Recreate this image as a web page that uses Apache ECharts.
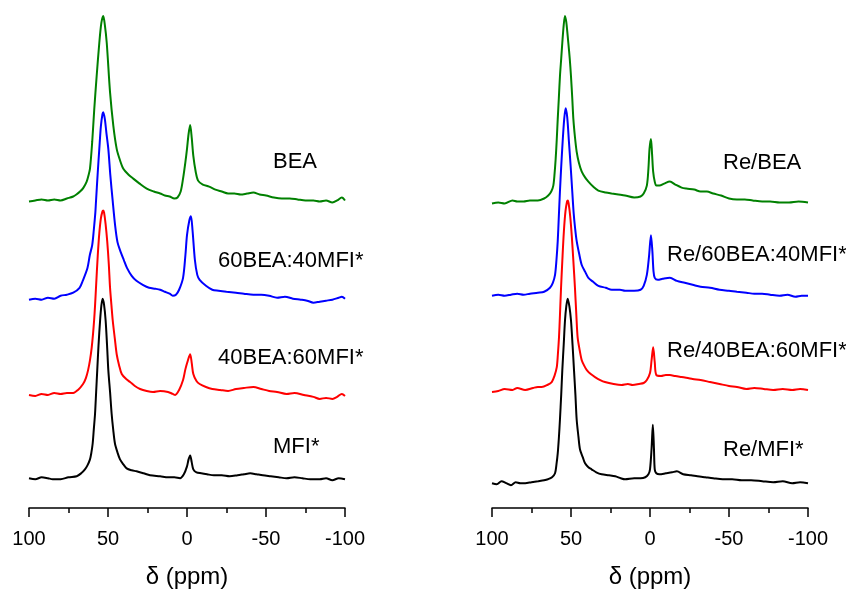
<!DOCTYPE html>
<html>
<head>
<meta charset="utf-8">
<title>29Si NMR</title>
<script src="https://cdn.jsdelivr.net/npm/echarts@6/dist/echarts.min.js"></script>
<style>
  html, body { margin: 0; padding: 0; background: #fff; }
  #chart { width: 846px; height: 594px; }
</style>
</head>
<body>
<div id="chart"></div>
<script>
// x tick labels (ppm)
var xTicks = [100, 50, 0, -50, -100]

// spectrum names, colors and vertical offsets (stacking)
var leftNames = ['BEA', '60BEA:40MFI*', '40BEA:60MFI*', 'MFI*']
var rightNames = ['Re/BEA', 'Re/60BEA:40MFI*', 'Re/40BEA:60MFI*', 'Re/MFI*']
var lineColors = ['#008000', '#0000ff', '#ff0000', '#000000']
var leftOffsets = [309, 210, 114, 29]
var rightOffsets = [307, 214, 119, 25]

// [ppm, intensity]
var bea = [[100,0],[96,1],[92,2],[88,1],[84,2],[80,1],[76,3],[72,5],[70,7],[67.7,10],[65.5,14],[63.5,20],[62.4,26],[61.4,33],[60,60],[58.7,93],[57.2,126],[55.5,160],[54.2,180],[53,187],[52,178],[50.8,160],[48.7,110],[46.6,76],[44.5,53],[42.5,42],[40.3,33],[37,27],[34,23],[30,18],[25.5,13],[21,10],[17,8],[14,6],[11,5],[8,3],[6,4],[4,10],[2.5,23],[1,40],[0,53],[-1,68],[-2,77],[-3,64],[-4,46],[-5.5,30],[-7,21],[-10,17],[-14,15],[-18,12],[-22,10],[-26,8],[-30,8],[-34,7],[-38,8],[-42,9],[-46,7],[-50,6],[-55,4],[-60,3],[-65,3],[-70,2],[-75,1],[-80,1],[-84,0],[-88,1],[-92,-1],[-95,1],[-98,4],[-100,1]]
var bea60 = [[100,0],[96,1],[92,0],[88,2],[84,1],[80,4],[76,5],[72,7],[68,12],[66,19],[63,32],[61.5,45],[60,55],[59,70],[58,88],[57.6,99],[56.5,128],[55.5,152],[54.5,175],[53.5,187],[53,189],[52,182],[51,168],[49.8,152],[48.5,125],[47,99],[45.5,75],[44,58],[42.4,50],[40,40],[38,32],[35,24],[32,19],[28,15],[24,12],[20,11],[17,10],[14,8],[11,6],[9,4],[7,5],[5,10],[2.5,22],[1,45],[0,65],[-1.5,80],[-2.5,84],[-3.5,70],[-5,40],[-6.5,25],[-8,20],[-12,14],[-16,10],[-20,9],[-25,8],[-31,7],[-36,6],[-42,5],[-47,5],[-52,4],[-57,2],[-62,3],[-67,1],[-72,0],[-76,-1],[-80,-3],[-84,-2],[-88,-1],[-92,0],[-96,2],[-98,3],[-100,1]]
var bea40 = [[100,0],[96,-1],[92,1],[88,0],[84,2],[80,1],[76,2],[72,2],[69,5],[65.8,11],[64,17],[62.6,25],[61.4,35],[60.3,48],[59.5,61],[58.8,75],[58.2,90],[57.6,108],[56.5,140],[55.5,163],[54.5,178],[53.5,185],[53,186],[52.5,184],[51.5,172],[50.5,155],[49.5,132],[48.7,108],[47.8,90],[47,75],[45.7,57],[44.5,41],[43,30],[41.3,21],[38.5,16],[36,13],[33,9],[29.7,6],[25.5,4],[21.5,3],[17,4],[12,3],[9,1],[7.5,0],[5,5],[2.5,15],[1,26],[-0.6,35],[-2,41],[-3,32],[-4,21],[-6,14],[-8,11],[-12,8],[-16,6],[-21,5],[-26,4],[-31,6],[-36,7],[-42,8],[-47,6],[-52,4],[-57,3],[-63,1],[-68,2],[-74,0],[-80,-2],[-84,-4],[-88,-3],[-92,-4],[-95,-2],[-98,1],[-100,-1]]
var mfi = [[100,1],[96,0],[92,2],[88,1],[85,0],[80,0],[75,2],[69.8,3],[67,6],[64.6,10],[63,14],[61.4,20],[60.5,27],[59.7,36],[59,50],[58.2,66],[57.5,88],[56.8,110],[56,135],[55,160],[54.2,175],[53.4,182],[52.5,176],[51.5,160],[50.6,135],[49.8,110],[48.7,88],[47.7,66],[46.7,50],[45.6,36],[44,27],[42.4,20],[40.3,15],[38.2,11],[35,9],[31.9,8],[27.5,6],[23.4,4],[17,3],[12,2],[8,2],[4.4,1],[2,5],[0,13],[-1,20],[-2,24],[-3,17],[-4,10],[-6,7],[-9,6],[-12.7,5],[-17,4],[-22,4],[-27,3],[-32,4],[-36,5],[-40,6],[-44,5],[-48,4],[-53,3],[-58,2],[-63,1],[-68,2],[-73,1],[-78,0],[-84,0],[-88,1],[-92,-1],[-96,1],[-100,0]]

var reBea = [[100,0],[96,1],[92,0],[87,3],[84,2],[80,2],[76,3],[71,3],[67,5],[64.4,8],[62.5,12],[61.2,18],[60.4,30],[59.7,45],[59,65],[58.4,85],[57.7,106],[57,128],[56.2,146],[55.5,162],[54.6,180],[53.8,189],[53,183],[52.4,174],[51.7,162],[50.8,146],[50,128],[49.2,106],[48.5,85],[47.5,67],[46.4,52],[45,41],[43.2,32],[41,26],[39,22],[36,17],[32.7,13],[28,11],[24.2,10],[20,9],[15.8,8],[10,6],[6,7],[4,10],[2,18],[1,35],[0.3,55],[-0.6,65],[-1.3,50],[-2,32],[-3,22],[-4,18],[-6,18],[-9,20],[-12.6,22],[-16,19],[-20,16],[-23,15],[-28,14],[-32,12],[-36,12],[-40,10],[-45,8],[-50,5],[-55,4],[-60,4],[-65,3],[-71,2],[-76,2],[-82,1],[-88,1],[-94,2],[-100,1]]
var reBea60 = [[100,0],[96,1],[92,0],[88,1],[84,2],[80,1],[76,2],[71,3],[67,4],[63.3,8],[61.5,13],[60.1,21],[59.2,36],[58.4,55],[57.7,80],[57,105],[56.2,130],[55.3,155],[54.3,178],[53.4,189],[52.4,180],[51.3,155],[50.2,130],[49.2,105],[48.3,83],[47.4,68],[46.4,55],[44.8,42],[43.2,31],[41,24],[39,18],[36,14],[32.7,10],[28,8],[24.2,6],[19,6],[15.8,5],[10,5],[6,6],[4,10],[2,21],[0.6,40],[-0.6,61],[-1.5,45],[-2.2,25],[-3,18],[-5,16],[-8,17],[-12.6,18],[-17,15],[-22,13],[-27,11],[-32,9],[-38,8],[-44,6],[-50,5],[-55,4],[-61,3],[-66,2],[-71,2],[-76,1],[-82,0],[-87,1],[-92,-1],[-96,0],[-100,0]]
var reBea40 = [[100,-2],[96,-1],[92,1],[87,0],[84,2],[79,0],[74,2],[71,3],[68.5,3],[65,5],[62.2,8],[60.5,14],[59,23],[58.3,36],[57.6,53],[57,75],[56.3,103],[55.5,130],[54.5,160],[53.5,180],[52.5,190],[52,191],[51.5,188],[50.5,175],[49.5,155],[48.5,130],[47.5,103],[46.6,75],[45.8,53],[44.5,40],[43.2,30],[41.5,24],[40,20],[37.5,16],[34.8,13],[31.5,10],[28.5,8],[23,6],[18,5],[14,6],[11,5],[7,6],[4,7],[2,10],[0,17],[-1,30],[-2,43],[-3,28],[-4,15],[-7,14],[-10,15],[-12.6,15],[-16,14],[-20,13],[-24,12],[-27,11],[-32,10],[-38,8],[-44,6],[-50,4],[-55,3],[-61,1],[-66,2],[-72,1],[-78,0],[-84,1],[-90,0],[-95,1],[-100,0]]
var reMfi = [[100,0],[97,-1],[94,2],[91,0],[88,-2],[85,1],[82,0],[79,0],[75,1],[70.9,2],[67,3],[64.6,4],[62,6],[60.1,10],[59.2,19],[58.4,30],[57.7,45],[57,64],[56.2,89],[55.5,114],[54.6,140],[53.8,164],[53,178],[52.1,186],[51,178],[50,164],[49,139],[48.1,114],[47.2,89],[46.4,64],[45.3,47],[44.3,34],[42.5,26],[41.1,20],[39,16],[37,14],[34,11],[30.6,9],[26,8],[22,7],[18.5,5],[15.8,4],[10,5],[6,5],[3,6],[1,9],[0,14],[-1,35],[-1.8,59],[-2.5,35],[-3,14],[-4,10],[-6,9],[-10,10],[-14,11],[-17,12],[-21,9],[-26,8],[-30,7],[-35,6],[-40,5],[-46,4],[-52,4],[-58,3],[-64,3],[-71,2],[-78,1],[-84,2],[-90,0],[-95,1],[-100,0]]

var leftData = [bea, bea60, bea40, mfi]
var rightData = [reBea, reBea60, reBea40, reMfi]

var font = 'Liberation Sans, Arial, sans-serif'

function makeAxis (idx) {
  return {
    gridIndex: idx,
    type: 'value',
    inverse: true,
    min: xTicks[xTicks.length - 1],
    max: xTicks[0],
    interval: xTicks[0] - xTicks[1],
    name: 'δ (ppm)',
    nameLocation: 'middle',
    nameGap: 57,
    nameTextStyle: { color: '#000', fontSize: 24, fontFamily: font },
    axisLine: { onZero: false, lineStyle: { color: '#000', width: 1.5 } },
    axisTick: { show: true, length: 9, lineStyle: { color: '#000', width: 1.5 } },
    minorTick: { show: true, splitNumber: 2, length: 5, lineStyle: { color: '#000', width: 1.5 } },
    axisLabel: { color: '#000', fontSize: 20, fontFamily: font, margin: 21 },
    splitLine: { show: false }
  }
}

function makeSeries (data, offsets, axisIdx) {
  return data.map(function (d, i) {
    return {
      type: 'line',
      xAxisIndex: axisIdx,
      yAxisIndex: axisIdx,
      data: d.map(function (p) { return [p[0], p[1] + offsets[i]] }),
      showSymbol: false,
      smooth: 0.3,
      lineStyle: { color: lineColors[i], width: 2 },
      z: 10 - i
    }
  })
}

// label positions of each spectrum name
var labelPos = [
  [273, 162], [218, 261], [218, 358], [273, 447],
  [723, 163], [667, 255], [667, 351], [723, 450]
]
var allNames = leftNames.concat(rightNames)
var labels = allNames.map(function (n, i) {
  return {
    type: 'text',
    x: labelPos[i][0],
    y: labelPos[i][1],
    style: { text: n, fill: '#000', font: '22px ' + font, align: 'left', verticalAlign: 'middle' }
  }
})

var chart = echarts.init(document.getElementById('chart'))
chart.setOption({
  animation: false,
  backgroundColor: '#fff',
  grid: [
    { left: 29, width: 316, top: 10, height: 502 },
    { left: 492, width: 316, top: 10, height: 502 }
  ],
  xAxis: [makeAxis(0), makeAxis(1)],
  yAxis: [
    { gridIndex: 0, type: 'value', min: 0, max: 502, show: false },
    { gridIndex: 1, type: 'value', min: 0, max: 502, show: false }
  ],
  series: makeSeries(leftData, leftOffsets, 0).concat(makeSeries(rightData, rightOffsets, 1)),
  graphic: labels
})
</script>
</body>
</html>
